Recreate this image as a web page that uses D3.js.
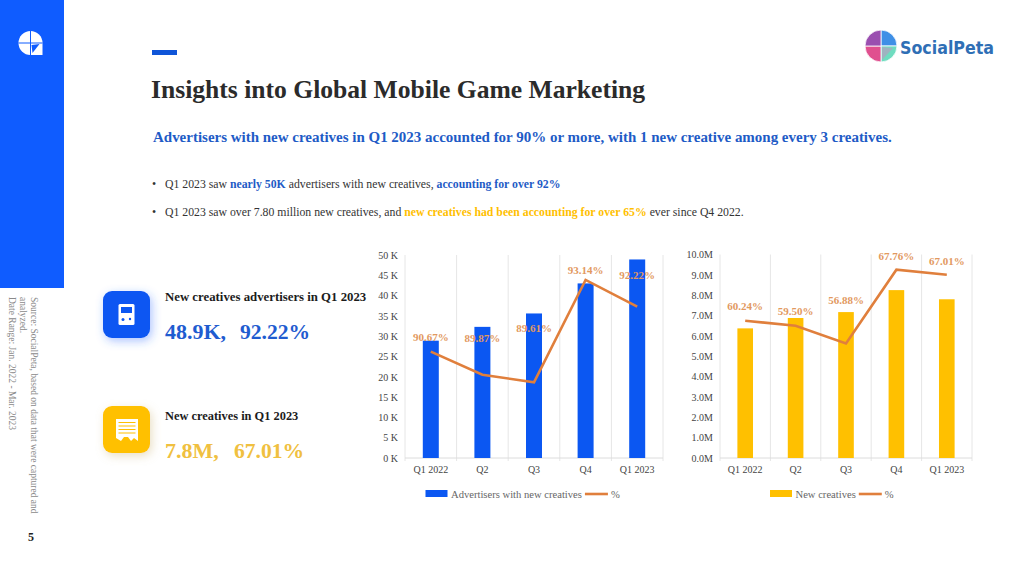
<!DOCTYPE html>
<html>
<head>
<meta charset="utf-8">
<script src="https://cdn.jsdelivr.net/npm/d3@7"></script>
<style>
  html, body { margin: 0; padding: 0; background: #fff; }
  text { font-family: "Liberation Serif", serif; }
</style>
</head>
<body>
<div id="chart"></div>
<script>
// data
var categories = ['Q1 2022', 'Q2', 'Q3', 'Q4', 'Q1 2023'];

var advertisers = [28.9, 32.3, 35.6, 43.0, 48.9];
var advertiserPct = [90.67, 89.87, 89.61, 93.14, 92.22];
var advertiserTicks = [0, 5, 10, 15, 20, 25, 30, 35, 40, 45, 50];
var advertiserTickLabels = ['0 K', '5 K', '10 K', '15 K', '20 K', '25 K', '30 K', '35 K', '40 K', '45 K', '50 K'];

var creatives = [6.37, 6.88, 7.17, 8.25, 7.80];
var creativePct = [60.24, 59.50, 56.88, 67.76, 67.01];
var creativeTicks = [0, 1, 2, 3, 4, 5, 6, 7, 8, 9, 10];
var creativeTickLabels = ['0.0M', '1.0M', '2.0M', '3.0M', '4.0M', '5.0M', '6.0M', '7.0M', '8.0M', '9.0M', '10.0M'];

var BLUE = '#0b57f2', YELLOW = '#ffc000', ORANGE = '#e07f3c';

var svg = d3.select('#chart').append('svg')
    .attr('width', 1024)
    .attr('height', 576)
    .style('display', 'block');

var defs = svg.append('defs');
function glow(id, color) {
  var f = defs.append('filter').attr('id', id)
      .attr('x', '-50%').attr('y', '-50%').attr('width', '200%').attr('height', '200%');
  f.append('feDropShadow').attr('dx', 2).attr('dy', 3).attr('stdDeviation', 5)
      .attr('flood-color', color).attr('flood-opacity', 0.4);
}
glow('glowBlue', '#2f6bff');
glow('glowYellow', '#c9b070');

function label(x, y, str, size, color, bold) {
  return svg.append('text')
      .attr('x', x).attr('y', y)
      .attr('font-size', size)
      .attr('fill', color)
      .attr('font-weight', bold ? 'bold' : 'normal')
      .text(str);
}

// left band
svg.append('rect').attr('width', 64).attr('height', 288).attr('fill', '#0f5cff');

var mark = svg.append('g').attr('transform', 'translate(30.5,43)');
mark.append('path')
    .attr('d', 'M-12,0 A12,12 0 0 1 12,0 L12,12 L0,12 A12,12 0 0 1 -12,0 Z')
    .attr('fill', '#fff');
mark.append('path').attr('d', 'M0,-12 V12 M-12,0 H12')
    .attr('stroke', '#0f5cff').attr('stroke-width', 1);
mark.append('path').attr('d', 'M1,2 L9,1 L2,10 Z').attr('fill', '#0f5cff');

// rotated source note
var note = ['Source: SocialPeta, based on data that were captured and', 'analyzed.', 'Date Range: Jan. 2022 - Mar. 2023'];
var noteX = [31, 20, 9];
note.forEach(function (s, i) {
  svg.append('text')
      .attr('transform', 'translate(' + noteX[i] + ',297) rotate(90)')
      .attr('font-size', 9.5)
      .attr('fill', '#8a8a8a')
      .text(s);
});
label(28, 541, '5', 12, '#222', true);

// heading
svg.append('rect').attr('x', 152).attr('y', 50).attr('width', 25).attr('height', 5).attr('fill', '#0f55d8');
label(151, 98, 'Insights into Global Mobile Game Marketing', 25.6, '#2b2b2b', true);
label(153, 142, 'Advertisers with new creatives in Q1 2023 accounted for 90% or more, with 1 new creative among every 3 creatives.', 14.97, '#1e5bc6', true);

// bullets
label(152, 188, '•', 11.8, '#333', false);
var b1 = label(165, 188, 'Q1 2023 saw ', 11.75, '#333', false);
b1.append('tspan').attr('fill', '#1e5bc6').attr('font-weight', 'bold').text('nearly 50K');
b1.append('tspan').text(' advertisers with new creatives, ');
b1.append('tspan').attr('fill', '#1e5bc6').attr('font-weight', 'bold').text('accounting for over 92%');

label(152, 216, '•', 11.8, '#333', false);
var b2 = label(165, 216, 'Q1 2023 saw over 7.80 million new creatives, and ', 11.75, '#333', false);
b2.append('tspan').attr('fill', YELLOW).attr('font-weight', 'bold').text('new creatives had been accounting for over 65%');
b2.append('tspan').text(' ever since Q4 2022.');

// logo
var logo = svg.append('g').attr('transform', 'translate(881,46)');
var quarter = d3.arc().innerRadius(0).outerRadius(16);
var logoColors = ['#3f8fe6', '#6fdcc0', '#e0508f', '#9a4fb0'];
logoColors.forEach(function (c, i) {
  logo.append('path')
      .attr('d', quarter({ startAngle: i * Math.PI / 2, endAngle: (i + 1) * Math.PI / 2 }))
      .attr('fill', c)
      .attr('stroke', '#fff')
      .attr('stroke-width', 0.8);
});
logo.append('path').attr('d', 'M1,1 L1,14 L12,2 Z').attr('fill', '#9fb3c0');
svg.append('text')
    .attr('x', 900).attr('y', 54)
    .attr('textLength', 94).attr('lengthAdjust', 'spacingAndGlyphs')
    .attr('font-size', 17).attr('font-weight', 'bold')
    .attr('fill', '#2f6fb5')
    .style('font-family', '"DejaVu Sans", sans-serif')
    .text('SocialPeta');

// KPI cards
var card1 = svg.append('g').attr('transform', 'translate(103,291)');
card1.append('rect').attr('width', 47).attr('height', 47).attr('rx', 9)
    .attr('fill', BLUE).attr('filter', 'url(#glowBlue)');
card1.append('rect').attr('x', 15.5).attr('y', 13).attr('width', 16).attr('height', 21).attr('rx', 1.5).attr('fill', '#fff');
card1.append('rect').attr('x', 18).attr('y', 16).attr('width', 11).attr('height', 6).attr('fill', BLUE);
card1.append('circle').attr('cx', 20).attr('cy', 28.5).attr('r', 1.5).attr('fill', BLUE);
card1.append('circle').attr('cx', 27).attr('cy', 28).attr('r', 1.2).attr('fill', BLUE);

var card2 = svg.append('g').attr('transform', 'translate(103,406)');
card2.append('rect').attr('width', 47).attr('height', 47).attr('rx', 9)
    .attr('fill', YELLOW).attr('filter', 'url(#glowYellow)');
card2.append('path')
    .attr('d', 'M13,13 H35 V35 L31,32 L28,35 L25,31 L21,31 L18,35 L13,32 Z')
    .attr('fill', '#fff');
card2.append('path').attr('d', 'M15.5,16.5 H32.5 M15.5,20 H32.5 M15.5,23.5 H32.5 M15.5,27 H32.5')
    .attr('stroke', YELLOW).attr('stroke-width', 1.1);

label(165, 301, 'New creatives advertisers in Q1 2023', 12.8, '#1c1c1c', true);
label(165, 339, '48.9K,', 22, '#1f5cd0', true);
label(240, 339, '92.22%', 21.6, '#1f5cd0', true);
label(165, 420, 'New creatives in Q1 2023', 12.4, '#1c1c1c', true);
label(165, 458, '7.8M,', 22, '#f0c040', true);
label(234, 458, '67.01%', 21.6, '#f0c040', true);

// combo chart: bars on the left scale, % line on a hidden right scale
function drawCombo(opt) {
  var x = d3.scaleBand().domain(categories).range([opt.left, opt.right]);
  var y = d3.scaleLinear().domain(opt.domain).range([opt.bottom, opt.top]);
  var yPct = d3.scaleLinear().domain(opt.pctDomain).range([opt.bottom, opt.top]);
  var barW = x.bandwidth() * 0.31;
  var g = svg.append('g');

  // separators between categories
  g.selectAll('.sep')
    .data(d3.range(categories.length + 1))
    .join('line')
      .attr('x1', function (i) { return opt.left + i * x.step(); })
      .attr('x2', function (i) { return opt.left + i * x.step(); })
      .attr('y1', opt.top)
      .attr('y2', opt.bottom + 3)
      .attr('stroke', '#e6e6e6');
  g.append('line')
      .attr('x1', opt.left).attr('x2', opt.right)
      .attr('y1', opt.bottom).attr('y2', opt.bottom)
      .attr('stroke', '#dcdcdc');

  g.selectAll('.bar')
    .data(opt.values)
    .join('rect')
      .attr('x', function (d, i) { return x(categories[i]) + (x.bandwidth() - barW) / 2; })
      .attr('y', function (d) { return y(d); })
      .attr('width', barW)
      .attr('height', function (d) { return opt.bottom - y(d); })
      .attr('fill', opt.color);

  var yAxis = g.append('g')
      .attr('transform', 'translate(' + opt.left + ',0)')
      .call(d3.axisLeft(y).tickValues(opt.ticks).tickSize(0).tickPadding(7)
        .tickFormat(function (d, i) { return opt.tickLabels[i]; }));
  yAxis.select('.domain').remove();
  yAxis.selectAll('text').attr('font-size', 10).attr('fill', '#444')
      .style('font-family', '"Liberation Serif", serif');

  var xAxis = g.append('g')
      .attr('transform', 'translate(0,' + opt.bottom + ')')
      .call(d3.axisBottom(x).tickSize(0).tickPadding(8));
  xAxis.select('.domain').remove();
  xAxis.selectAll('text').attr('font-size', 10).attr('fill', '#444')
      .style('font-family', '"Liberation Serif", serif');

  var line = d3.line()
      .x(function (d, i) { return x(categories[i]) + x.bandwidth() / 2; })
      .y(function (d) { return yPct(d); });
  g.append('path')
      .attr('d', line(opt.pct))
      .attr('fill', 'none')
      .attr('stroke', ORANGE)
      .attr('stroke-width', 2.6);

  g.selectAll('.pct')
    .data(opt.pct)
    .join('text')
      .attr('x', function (d, i) { return x(categories[i]) + x.bandwidth() / 2; })
      .attr('y', function (d, i) { return yPct(d) + opt.labelDy[i] + 4; })
      .attr('text-anchor', 'middle')
      .attr('font-size', 11)
      .attr('font-weight', 'bold')
      .attr('fill', '#e2995f')
      .text(function (d) { return d.toFixed(2) + '%'; });

  // legend
  g.append('rect').attr('x', opt.legendX).attr('y', 490).attr('width', 22).attr('height', 7).attr('fill', opt.color);
  var name = g.append('text')
      .attr('x', opt.legendX + 25.5).attr('y', 497.5)
      .attr('font-size', 10.6).attr('fill', '#666')
      .text(opt.name);
  var nameEnd = opt.legendX + 25.5 + name.node().getComputedTextLength();
  g.append('line')
      .attr('x1', nameEnd + 3).attr('x2', nameEnd + 26)
      .attr('y1', 494).attr('y2', 494)
      .attr('stroke', ORANGE).attr('stroke-width', 2.6);
  g.append('text')
      .attr('x', nameEnd + 29).attr('y', 497.5)
      .attr('font-size', 10.6).attr('fill', '#666')
      .text('%');
}

drawCombo({
  values: advertisers, pct: advertiserPct, name: 'Advertisers with new creatives',
  ticks: advertiserTicks, tickLabels: advertiserTickLabels,
  domain: [0, 50], pctDomain: [87, 94], color: BLUE,
  left: 405, right: 663, top: 255, bottom: 458, legendX: 425.5,
  labelDy: [-15, -37, -54, -10, -32]
});

drawCombo({
  values: creatives, pct: creativePct, name: 'New creatives',
  ticks: creativeTicks, tickLabels: creativeTickLabels,
  domain: [0, 10], pctDomain: [40, 70], color: YELLOW,
  left: 720, right: 972, top: 254.5, bottom: 458, legendX: 770,
  labelDy: [-15, -15, -43, -14, -14]
});
</script>
</body>
</html>
